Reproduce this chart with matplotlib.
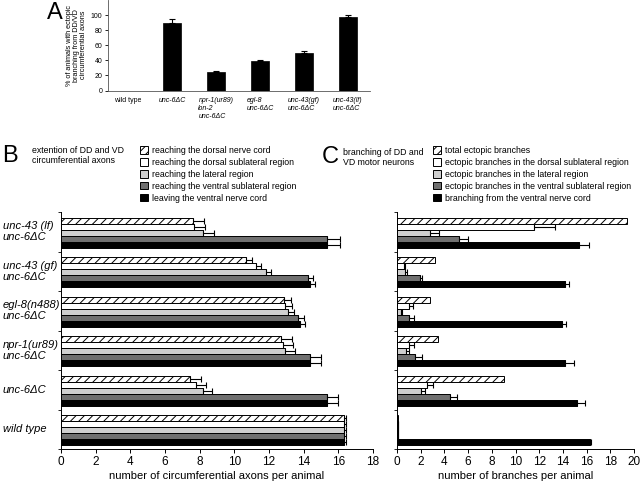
import matplotlib
matplotlib.use("Agg")
import matplotlib.pyplot as plt
import matplotlib.transforms as mtransforms
from matplotlib.patches import Patch
import numpy as np

plt.rcParams['font.family'] = ['Liberation Sans', 'DejaVu Sans']
plt.rcParams['hatch.linewidth'] = 0.7

# ---------------- Panel A data ----------------
a_categories = ["wild type", "unc-6ΔC", "npr-1(ur89)\nlon-2\nunc-6ΔC", "egl-8\nunc-6ΔC",
                "unc-43(gf)\nunc-6ΔC", "unc-43(lf)\nunc-6ΔC"]
a_values = [0, 90, 24, 39, 49.5, 97]
a_errors = [0, 4.5, 1.5, 1.2, 2.5, 3.5]
a_yticks = [0, 20, 40, 60, 80, 100]

# ---------------- Panels B/C groups ----------------
groups = ["unc-43 (lf)\nunc-6ΔC", "unc-43 (gf)\nunc-6ΔC", "egl-8(n488)\nunc-6ΔC",
          "npr-1(ur89)\nunc-6ΔC", "unc-6ΔC", "wild type"]

# Panel B: extension of axons
b_labels = ["reaching the dorsal nerve cord", "reaching the dorsal sublateral region",
            "reaching the lateral region", "reaching the ventral sublateral region",
            "leaving the ventral nerve cord"]
b_dorsal_cord = [7.6, 10.65, 12.85, 12.7, 7.45, 16.3]
b_dorsal_cord_err = [0.65, 0.35, 0.4, 0.65, 0.65, 0.15]
b_dorsal_sub = [7.7, 11.25, 12.95, 12.8, 7.8, 16.3]
b_dorsal_sub_err = [0.6, 0.3, 0.35, 0.6, 0.55, 0.15]
b_lateral = [8.2, 11.8, 13.1, 12.9, 8.2, 16.3]
b_lateral_err = [0.65, 0.3, 0.35, 0.6, 0.5, 0.15]
b_ventral_sub = [15.35, 14.25, 13.7, 14.35, 15.35, 16.3]
b_ventral_sub_err = [0.75, 0.3, 0.3, 0.65, 0.65, 0.15]
b_leaving = [15.35, 14.35, 13.8, 14.35, 15.35, 16.3]
b_leaving_err = [0.75, 0.3, 0.3, 0.65, 0.65, 0.15]

# Panel C: branching
c_labels = ["total ectopic branches", "ectopic branches in the dorsal sublateral region",
            "ectopic branches in the lateral region", "ectopic branches in the ventral sublateral region",
            "branching from the ventral nerve cord"]
c_total = [19.45, 3.2, 2.75, 3.45, 9.05, 0.08]
c_dorsal_sub = [11.6, 0.55, 1.05, 1.0, 2.5, 0.08]
c_dorsal_sub_err = [1.75, 0.12, 0.3, 0.45, 0.55, 0.0]
c_lateral = [2.8, 0.7, 0.3, 0.75, 2.05, 0.08]
c_lateral_err = [0.75, 0.12, 0.1, 0.27, 0.35, 0.0]
c_ventral_sub = [5.2, 1.9, 1.05, 1.5, 4.45, 0.08]
c_ventral_sub_err = [0.8, 0.22, 0.4, 0.65, 0.6, 0.0]
c_vnc = [15.35, 14.2, 13.95, 14.2, 15.15, 16.25]
c_vnc_err = [0.85, 0.35, 0.35, 0.7, 0.7, 0.12]

b_xticks = list(range(0, 19, 2))
c_xticks = list(range(0, 21, 2))

styles = [dict(facecolor='white', hatch='////'),
          dict(facecolor='white', hatch=None),
          dict(facecolor='#cfcfcf', hatch=None),
          dict(facecolor='#707070', hatch=None),
          dict(facecolor='black', hatch=None)]

W, H = 640, 484
fig = plt.figure(figsize=(6.4, 4.84), dpi=100)

def fx(px):
    return px / W

def fy(py):
    return 1 - py / H

# ---------------- Panel A ----------------
axA = fig.add_axes([fx(108), fy(90.5), fx(370 - 108), 90.5 / H])
xa = np.arange(len(a_categories))
axA.bar(xa, a_values, width=0.4, color='black', edgecolor='black', linewidth=0.5)
axA.errorbar(xa[1:], a_values[1:], yerr=[np.zeros(len(xa) - 1), a_errors[1:]], fmt='none',
             ecolor='black', elinewidth=0.8, capsize=2.5, capthick=0.8)
axA.set_xlim(-0.45, 5.5)
axA.set_ylim(0, 120)
axA.set_yticks(a_yticks)
axA.tick_params(axis='y', labelsize=5, length=2.5, width=0.6, pad=1.5)
axA.set_xticks(xa)
axA.set_xticklabels(a_categories, fontsize=5, linespacing=1.15)
for i, lab in enumerate(axA.get_xticklabels()):
    lab.set_multialignment('left')
    if i > 0:
        lab.set_style('italic')
axA.tick_params(axis='x', length=0, pad=5)
for s in ['top', 'right']:
    axA.spines[s].set_visible(False)
for s in ['left', 'bottom']:
    axA.spines[s].set_linewidth(0.6)
    axA.spines[s].set_color('#555555')
axA.set_ylabel("% of animals with ectopic\nbranching from DD/VD\ncircumferential axons",
               fontsize=5.2, linespacing=1.0, labelpad=3)
fig.text(fx(47), fy(2), "A", fontsize=17, va='top', ha='left')

# ---------------- Panels B & C ----------------
bar_h = 6 / 39.5
offset = 5.5 / 39.5

def draw_panel(ax, series, errs, xmax, xticks, xlabel, labels, legend_x):
    n = len(groups)
    gi = np.arange(n)
    for k, (vals, st) in enumerate(zip(series, styles)):
        yc = gi + offset + bar_h * (k + 0.5)
        ax.barh(yc, vals, height=bar_h, color=st['facecolor'], edgecolor='black',
                hatch=st['hatch'], linewidth=0.7)
        if errs[k] is not None:
            ax.errorbar(vals, yc, xerr=[np.zeros(n), errs[k]], fmt='none', ecolor='black',
                        elinewidth=0.8, capsize=2.2, capthick=0.8)
    ax.set_ylim(n, 0)
    ax.set_xlim(0, xmax)
    ax.set_yticks(np.arange(n + 1))
    ax.set_yticklabels([])
    ax.tick_params(axis='y', length=2.5, width=0.6)
    ax.set_xticks(xticks)
    ax.tick_params(axis='x', labelsize=8.5, length=3, width=0.7, pad=2)
    ax.set_xlabel(xlabel, fontsize=8, labelpad=2)
    for s in ['top', 'right']:
        ax.spines[s].set_visible(False)
    for s in ['left', 'bottom']:
        ax.spines[s].set_linewidth(0.7)
    handles = [Patch(facecolor=st['facecolor'], edgecolor='black', hatch=st['hatch'], linewidth=0.7)
               for st in styles]
    fig.legend(handles, labels, loc='upper left', bbox_to_anchor=(fx(legend_x), fy(146)),
               frameon=False, fontsize=6.3, handlelength=0.95, handleheight=0.95,
               handletextpad=0.4, labelspacing=0.33, borderpad=0, borderaxespad=0)

axB = fig.add_axes([fx(61), fy(449), fx(373 - 61), (449 - 212) / H])
draw_panel(axB, [b_dorsal_cord, b_dorsal_sub, b_lateral, b_ventral_sub, b_leaving],
           [b_dorsal_cord_err, b_dorsal_sub_err, b_lateral_err, b_ventral_sub_err, b_leaving_err],
           18, b_xticks, "number of circumferential axons per animal", b_labels, 140)

axC = fig.add_axes([fx(397), fy(449), fx(634 - 397), (449 - 212) / H])
draw_panel(axC, [c_total, c_dorsal_sub, c_lateral, c_ventral_sub, c_vnc],
           [None, c_dorsal_sub_err, c_lateral_err, c_ventral_sub_err, c_vnc_err],
           20, c_xticks, "number of branches per animal", c_labels, 433)

# group labels for panel B
blend = mtransforms.blended_transform_factory(fig.transFigure, axB.transData)
for i, g in enumerate(groups):
    axB.text(fx(3), i + 0.5, g, transform=blend, fontsize=8, style='italic',
             ha='left', va='center', linespacing=1.15)

fig.text(fx(2), fy(156), "B", fontsize=17, va='center', ha='left')
fig.text(fx(32), fy(146), "extention of DD and VD\ncircumferential axons", fontsize=6.3,
         va='top', ha='left', linespacing=1.1)
fig.text(fx(322), fy(157), "C", fontsize=17, va='center', ha='left')
fig.text(fx(343), fy(148), "branching of DD and\nVD motor neurons", fontsize=6.3,
         va='top', ha='left', linespacing=1.1)

fig.savefig("out.png", dpi=100)
